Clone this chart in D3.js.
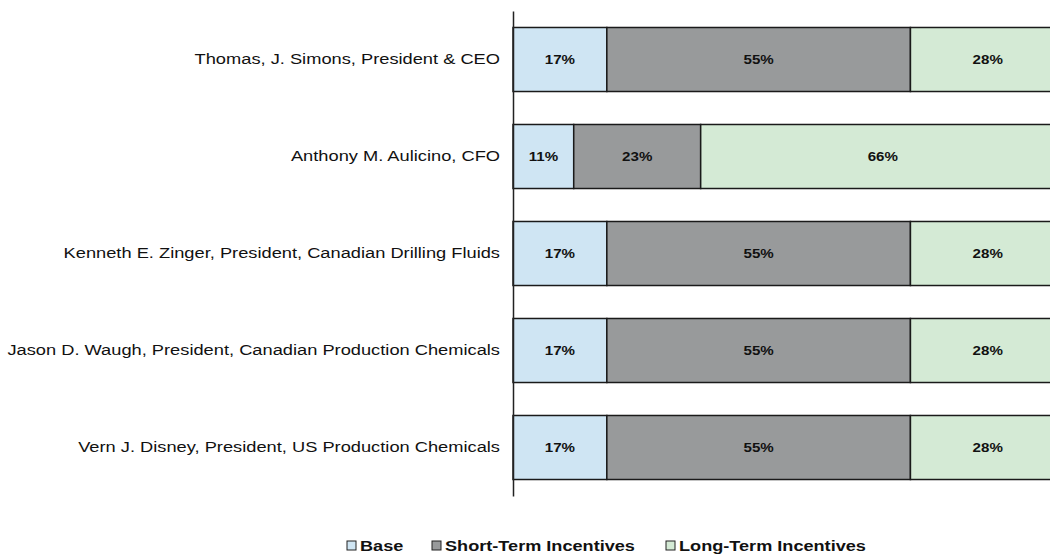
<!DOCTYPE html>
<html><head><meta charset="utf-8">
<script src="https://cdn.jsdelivr.net/npm/d3@7"></script>
<style>body{margin:0;background:#fff;overflow:hidden}</style>
</head><body>
<svg id="c" width="1050" height="554"></svg>
<script>
const categories = [
  "Thomas, J. Simons, President & CEO",
  "Anthony M. Aulicino, CFO",
  "Kenneth E. Zinger, President, Canadian Drilling Fluids",
  "Jason D. Waugh, President, Canadian Production Chemicals",
  "Vern J. Disney, President, US Production Chemicals"
];
const seriesNames = ["Base", "Short-Term Incentives", "Long-Term Incentives"];
const base = [17, 11, 17, 17, 17];
const shortTerm = [55, 23, 55, 55, 55];
const longTerm = [28, 66, 28, 28, 28];
const colors = ["#cfe5f3", "#989a9b", "#d4ead5"];

const SX = 1.21; // horizontal text stretch seen in the reference
const FONT = "Liberation Sans, Arial, sans-serif";

const svg = d3.select("#c");
const x = d3.scaleLinear().domain([0, 100]).range([513, 1065]);
const y = d3.scaleBand().domain(categories).range([11, 496]).paddingInner(0.34).paddingOuter(0.17);

const rows = categories.map((c, i) => ({cat: c, vals: [base[i], shortTerm[i], longTerm[i]]}));
const stack = d3.stack().keys([0,1,2]).value((d, k) => d.vals[k]);
const stacked = stack(rows);

stacked.forEach((layer, k) => {
  const g = svg.append("g");
  layer.forEach(seg => {
    const x0 = x(seg[0]), x1 = x(seg[1]);
    g.append("rect")
      .attr("x", x0).attr("y", y(seg.data.cat))
      .attr("width", x1 - x0).attr("height", y.bandwidth())
      .attr("fill", colors[k]).attr("stroke", "#1a1a1a").attr("stroke-width", 1.5);
    g.append("text")
      .attr("transform", `translate(${(x0 + x1) / 2},${y(seg.data.cat) + y.bandwidth() / 2}) scale(${SX},1)`)
      .attr("dy", "0.35em").attr("text-anchor", "middle")
      .attr("font-family", FONT)
      .attr("font-size", 12.5).attr("font-weight", "bold").attr("fill", "#111")
      .text(seg.data.vals[k] + "%");
  });
});

// axis
const ax = svg.append("g").attr("transform", "translate(513,0)")
  .call(d3.axisLeft(y).tickSize(0).tickPadding(13));
ax.select(".domain").attr("stroke", "#222").attr("stroke-width", 1.5);
ax.selectAll("text").attr("font-family", FONT)
  .attr("font-size", 15.1).attr("fill", "#111")
  .attr("x", -13 / SX)
  .attr("transform", `scale(${SX},1)`);

// legend
const legX = [347, 432, 666];
const lg = svg.append("g");
seriesNames.forEach((n, i) => {
  lg.append("rect").attr("x", legX[i]).attr("y", 541).attr("width", 9).attr("height", 9)
    .attr("fill", colors[i]).attr("stroke", "#222").attr("stroke-width", 1);
  lg.append("text")
    .attr("transform", `translate(${legX[i] + 13},546) scale(1.25,1)`)
    .attr("dy", "0.35em")
    .attr("font-family", FONT)
    .attr("font-size", 14.5).attr("font-weight", "bold").attr("fill", "#111").text(n);
});
</script>
</body></html>
